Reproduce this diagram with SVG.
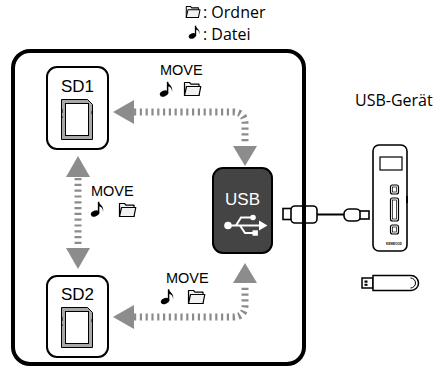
<svg xmlns="http://www.w3.org/2000/svg" width="439" height="372" viewBox="0 0 439 372">
  <style>
    .frame { fill: none; stroke: #000; stroke-width: 4; }
    .slot { fill: #fff; stroke: #000; stroke-width: 2; }
    .lbl { font-family: "Liberation Sans", Arial, sans-serif; fill: #000; }
    .legend { font-family: "Open Sans", "Noto Sans", sans-serif; font-size: 16px; fill: #000; }
    .flow { fill: none; stroke: #8c8c8c; stroke-width: 7; stroke-dasharray: 2.2 3.6; }
    .head { fill: #8c8c8c; }
    .dev { fill: #fff; stroke: #000; stroke-width: 1.6; }
  </style>
  <defs>
    <symbol id="note" viewBox="0 0 16 16">
      <ellipse cx="5" cy="12.5" rx="4.3" ry="3" transform="rotate(-20 5 12.5)" fill="#000"/>
      <path d="M8.6 12.5 V0.8" stroke="#000" stroke-width="1.5" fill="none"/>
      <path d="M8.6 0.8 C9.5 4 14.5 5 13 11 C13.2 7 11 5.5 8.6 5.2 Z" fill="#000"/>
    </symbol>
    <symbol id="folder" viewBox="0 0 19 17">
      <path d="M1.5 15.5 V2.5 H6.5 L8 4.2 H16 V15.5 Z" fill="#f2f2f2" stroke="#000" stroke-width="1.2" stroke-linejoin="round"/>
      <path d="M1.5 15.5 L3.5 6.5 H17.8 L16 15.5 Z" fill="#f2f2f2" stroke="#000" stroke-width="1.2" stroke-linejoin="round"/>
    </symbol>
    <symbol id="sdcard" viewBox="0 0 32 41">
      <path d="M0.5 0.5 H26.5 L31.5 5.5 V40.5 H0.5 Z" fill="#a8a8a8" stroke="#000" stroke-width="1"/>
      <rect x="4.5" y="4.5" width="23" height="32" fill="#fff" stroke="#000" stroke-width="1"/>
      <path d="M0.5 10 V14 M0.5 17 V19 M31.5 12 V15" stroke="#000" stroke-width="2"/>
    </symbol>
  </defs>

  <!-- legend -->
  <g id="legend">
    <use href="#folder" x="185" y="4" width="16" height="15"/>
    <text class="legend" x="203" y="18">: Ordner</text>
    <use href="#note" x="188" y="24" width="14" height="16"/>
    <text class="legend" x="203" y="40">: Datei</text>
  </g>

  <!-- USB cable, drawn under the frame line -->
  <g id="cable">
    <rect x="283" y="208.5" width="9" height="11" fill="#fff" stroke="#000" stroke-width="1.6"/>
    <rect x="291" y="206" width="26" height="17" rx="4" fill="#fff" stroke="#000" stroke-width="1.6"/>
    <path d="M317 214.5 H345" stroke="#000" stroke-width="2"/>
    <rect x="344" y="209" width="17" height="12" rx="5" fill="#fff" stroke="#000" stroke-width="1.6"/>
    <rect x="360" y="211" width="9" height="8" fill="#fff" stroke="#000" stroke-width="1.6"/>
  </g>

  <!-- device frame -->
  <rect id="frame" class="frame" x="13" y="51" width="291" height="313" rx="17"/>

  <g id="sd1">
    <rect class="slot" x="47" y="67" width="61" height="82" rx="10"/>
    <text class="lbl" x="77.5" y="92" font-size="17" text-anchor="middle">SD1</text>
    <use href="#sdcard" x="61" y="99" width="32" height="41"/>
  </g>

  <g id="sd2">
    <rect class="slot" x="47" y="276" width="61" height="81" rx="10"/>
    <text class="lbl" x="77.5" y="300" font-size="17" text-anchor="middle">SD2</text>
    <use href="#sdcard" x="61" y="307" width="32" height="41"/>
  </g>

  <g id="usb">
    <rect x="213" y="168" width="59" height="85" rx="10" fill="#444" stroke="#000" stroke-width="2"/>
    <text x="242.5" y="205" font-family="Liberation Sans, Arial, sans-serif" font-size="17" fill="#fff" text-anchor="middle">USB</text>
    <g fill="#fff" stroke="#fff">
      <circle cx="228" cy="225.5" r="3.8" stroke="none"/>
      <path d="M228 225.5 H261" stroke-width="2.2" fill="none"/>
      <path d="M259 220.5 L267.5 225.5 L259 230.5 Z" stroke="none"/>
      <path d="M236 225.5 L241 217.5 H251" stroke-width="2" fill="none"/>
      <circle cx="253" cy="217.5" r="2.8" stroke="none"/>
      <path d="M240 225.5 L245 233 H253" stroke-width="2" fill="none"/>
      <rect x="252.5" y="230.3" width="5.4" height="5.4" stroke="none"/>
    </g>
  </g>

  <!-- transfer arrows -->
  <g id="connectors">
    <path class="flow" d="M134 112 H233 Q245 112 245 124 V143"/>
    <polygon class="head" points="113,112 134,100 134,124"/>
    <polygon class="head" points="233,146 257,146 245,166"/>

    <path class="flow" d="M78 178 V245"/>
    <polygon class="head" points="78,156 66,177 90,177"/>
    <polygon class="head" points="66,248 90,248 78,269"/>

    <path class="flow" d="M134 317 H233 Q245 317 245 305 V286"/>
    <polygon class="head" points="113,317 134,305 134,329"/>
    <polygon class="head" points="233,283 257,283 245,263"/>
  </g>

  <g id="move-top">
    <text class="lbl" x="160" y="75" font-size="14.5">MOVE</text>
    <use href="#note" x="159" y="81" width="16" height="16"/>
    <use href="#folder" x="183" y="80" width="19" height="17"/>
  </g>
  <g id="move-mid">
    <text class="lbl" x="91" y="196" font-size="14.5">MOVE</text>
    <use href="#note" x="90" y="201" width="16" height="16"/>
    <use href="#folder" x="118" y="201" width="19" height="17"/>
  </g>
  <g id="move-bottom">
    <text class="lbl" x="166" y="283" font-size="14.5">MOVE</text>
    <use href="#note" x="160" y="288" width="16" height="17"/>
    <use href="#folder" x="187" y="288" width="19" height="17"/>
  </g>

  <!-- external USB devices -->
  <g id="usb-geraet">
    <text class="legend" x="355" y="106" font-size="13.5">USB-Gerät</text>
    <rect class="dev" x="373" y="145" width="34" height="106" rx="6"/>
    <rect x="380" y="157" width="22" height="13" fill="#fff" stroke="#000" stroke-width="1.2"/>
    <rect x="390.5" y="185" width="8" height="9" rx="2" fill="#fff" stroke="#000" stroke-width="1.2"/>
    <rect x="392.5" y="187" width="4" height="5" fill="none" stroke="#000" stroke-width="0.7"/>
    <rect x="390.5" y="198" width="8" height="23" rx="2" fill="#fff" stroke="#000" stroke-width="1.2"/>
    <rect x="392.5" y="200" width="4" height="19" fill="none" stroke="#000" stroke-width="0.7"/>
    <rect x="390.5" y="225" width="8" height="9" rx="2" fill="#fff" stroke="#000" stroke-width="1.2"/>
    <rect x="392.5" y="227" width="4" height="5" fill="none" stroke="#000" stroke-width="0.7"/>
    <path d="M407 196 V203" stroke="#000" stroke-width="2"/>
    <text x="386" y="245" font-family="Liberation Sans, Arial, sans-serif" font-size="3" font-weight="bold" fill="#000" textLength="16">KENWOOD</text>
  </g>
  <g id="usb-stick">
    <rect x="362" y="278" width="11" height="10" fill="#fff" stroke="#000" stroke-width="1.5"/>
    <rect x="364.5" y="280.5" width="3" height="2.2" fill="#000"/>
    <rect x="364.5" y="283.8" width="3" height="2" fill="#000"/>
    <path d="M373 275.5 H411 A7.5 7.5 0 0 1 411 290.5 H373 Z" fill="#fff" stroke="#000" stroke-width="1.5"/>
    <path d="M410.5 278 A5 5 0 0 1 410.5 288" fill="none" stroke="#000" stroke-width="1"/>
  </g>
</svg>
